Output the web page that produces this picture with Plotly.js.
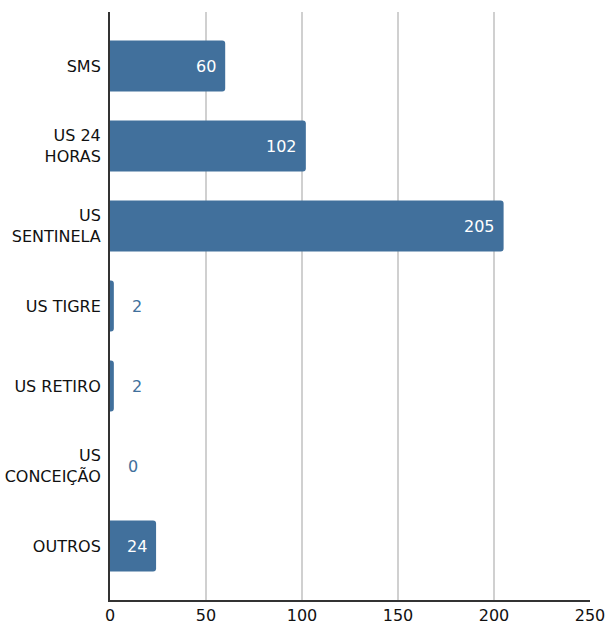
<!DOCTYPE html>
<html><head><meta charset="utf-8">
<script src="https://cdn.plot.ly/plotly-3.0.1.min.js"></script>
<style>html,body{margin:0;padding:0;background:#fff}#chart{width:608px;height:629px}</style>
</head><body><div id="chart"></div>
<script>
const categories = ['SMS', 'US 24<br>HORAS', 'US<br>SENTINELA', 'US TIGRE', 'US RETIRO', 'US<br>CONCEIÇÃO', 'OUTROS'];
const values = [60, 102, 205, 2, 2, 0, 24];
const xTicks = [0, 50, 100, 150, 200, 250];

const barColor = '#41709c';
const font = 'DejaVu Sans, Verdana, sans-serif';

const annotations = values.map((v, i) => {
  const inside = v >= 10;
  return {
    x: v, y: categories[i], xref: 'x', yref: 'y',
    text: String(v), showarrow: false,
    xanchor: inside ? 'right' : 'left',
    xshift: inside ? -7 : 16,
    font: {family: font, size: 16, color: inside ? '#ffffff' : barColor}
  };
});

Plotly.newPlot('chart', [{
  type: 'bar', orientation: 'h',
  x: values, y: categories,
  marker: {color: barColor, cornerradius: 3},
  width: 0.64,
  hoverinfo: 'none'
}], {
  width: 608, height: 629,
  margin: {l: 110, r: 18, t: 12, b: 29},
  paper_bgcolor: '#fff', plot_bgcolor: '#fff',
  showlegend: false,
  font: {family: font, size: 16, color: '#111'},
  xaxis: {
    range: [0, 250], tickvals: xTicks, ticktext: xTicks.map(String),
    showgrid: true, gridcolor: '#d0d0d0', gridwidth: 2,
    zeroline: false, showline: true, linecolor: '#333', linewidth: 2,
    ticks: '', tickfont: {family: font, size: 16, color: '#111'},
    fixedrange: true
  },
  yaxis: {
    type: 'category', range: [6.675, -0.675],
    showgrid: false, zeroline: false,
    showline: true, linecolor: '#333', linewidth: 2,
    ticks: '', ticklabelstandoff: 4,
    tickfont: {family: font, size: 16, color: '#111'},
    fixedrange: true
  },
  annotations: annotations
}, {displayModeBar: false, staticPlot: true});
</script></body></html>
